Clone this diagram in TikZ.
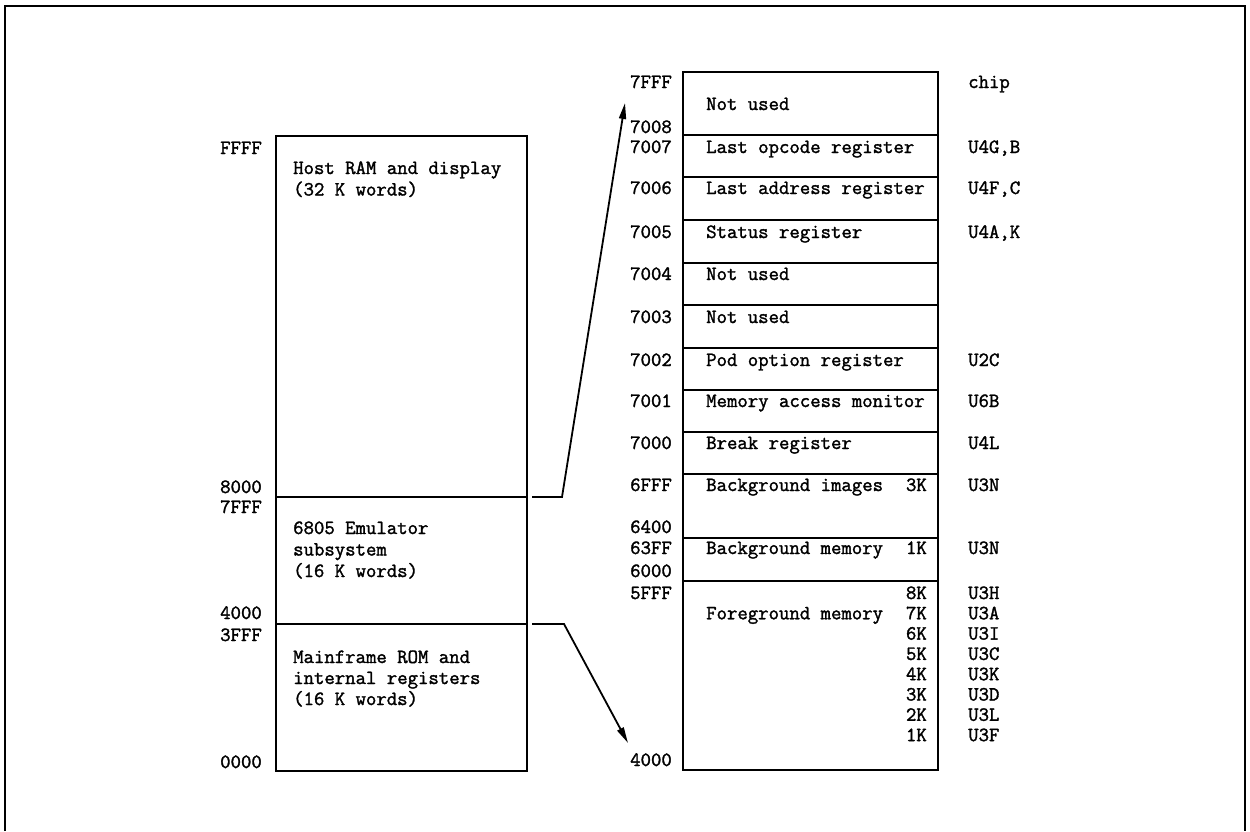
\documentclass[tikz,border=0pt]{standalone}
\usepackage{fontspec}
\newfontfamily\tyfont{Latin Modern Mono}[RawFeature={embolden=1.6}]
\usetikzlibrary{arrows.meta}
\begin{document}
\begin{tikzpicture}[x=1pt,y=-1pt,
  region/.style={draw,line width=1.6pt,anchor=north west,inner sep=0pt,outer sep=0pt},
  txt/.style={inner sep=0pt,anchor=base west,font=\fontsize{20.2}{21.5}\selectfont\tyfont},
  rtxt/.style={txt,anchor=base east},
  arr/.style={line width=1.8pt,-{Triangle[length=16pt,width=7pt]}},
  frame/.style={line width=2.6pt}]
\useasboundingbox (0,0) rectangle (1250,831);
% outer frame (open at bottom)
\draw[frame] (5,831) -- (5,6) -- (1245,6) -- (1245,831);

% ---------- left memory map ----------
\node[region,minimum width=251pt,minimum height=361pt] (host) at (276,136) {};
\node[region,minimum width=251pt,minimum height=127pt] (emu) at (276,497) {};
\node[region,minimum width=251pt,minimum height=147pt] (rom) at (276,624) {};

\node[rtxt] (aFFFF) at (262,154) {FFFF};
\node[rtxt] (a8000) at (262,493) {8000};
\node[rtxt] (a7FFFl) at (262,513) {7FFF};
\node[rtxt] (a4000l) at (262,619) {4000};
\node[rtxt] (a3FFF) at (262,641) {3FFF};
\node[rtxt] (a0000) at (262,768) {0000};

\node[txt] (h1) at (293,174) {Host RAM and display};
\node[txt] (h2) at (293,195.5) {(32 K words)};
\node[txt] (e1) at (293,534) {6805 Emulator};
\node[txt] (e2) at (293,555.5) {subsystem};
\node[txt] (e3) at (293,577) {(16 K words)};
\node[txt] (m1) at (293,663) {Mainframe ROM and};
\node[txt] (m2) at (293,684) {internal registers};
\node[txt] (m3) at (293,705) {(16 K words)};

% ---------- right memory map ----------
\node[region,minimum width=255pt,minimum height=63pt] (r0) at (683,72) {};
\node[region,minimum width=255pt,minimum height=42pt] (r1) at (683,135) {};
\node[region,minimum width=255pt,minimum height=43pt] (r2) at (683,177) {};
\node[region,minimum width=255pt,minimum height=43pt] (r3) at (683,220) {};
\node[region,minimum width=255pt,minimum height=42pt] (r4) at (683,263) {};
\node[region,minimum width=255pt,minimum height=43pt] (r5) at (683,305) {};
\node[region,minimum width=255pt,minimum height=42pt] (r6) at (683,348) {};
\node[region,minimum width=255pt,minimum height=42pt] (r7) at (683,390) {};
\node[region,minimum width=255pt,minimum height=42pt] (r8) at (683,432) {};
\node[region,minimum width=255pt,minimum height=64pt] (r9) at (683,474) {};
\node[region,minimum width=255pt,minimum height=43pt] (r10) at (683,538) {};
\node[region,minimum width=255pt,minimum height=189pt] (r11) at (683,581) {};

% addresses
\node[rtxt] (b7FFF) at (672,88) {7FFF};
\node[rtxt] (b7008) at (672,133) {7008};
\node[rtxt] (b7007) at (672,153) {7007};
\node[rtxt] (b7006) at (672,194) {7006};
\node[rtxt] (b7005) at (672,238) {7005};
\node[rtxt] (b7004) at (672,280) {7004};
\node[rtxt] (b7003) at (672,323) {7003};
\node[rtxt] (b7002) at (672,366) {7002};
\node[rtxt] (b7001) at (672,407) {7001};
\node[rtxt] (b7000) at (672,449) {7000};
\node[rtxt] (b6FFF) at (672,491) {6FFF};
\node[rtxt] (b6400) at (672,533) {6400};
\node[rtxt] (b63FF) at (672,554) {63FF};
\node[rtxt] (b6000) at (672,577) {6000};
\node[rtxt] (b5FFF) at (672,599) {5FFF};
\node[rtxt] (b4000) at (672,766) {4000};

% contents
\node[txt] (c0) at (706,110) {Not used};
\node[txt] (c1) at (706,153) {Last opcode register};
\node[txt] (c2) at (706,194) {Last address register};
\node[txt] (c3) at (706,238) {Status register};
\node[txt] (c4) at (706,280) {Not used};
\node[txt] (c5) at (706,323) {Not used};
\node[txt] (c6) at (706,366) {Pod option register};
\node[txt] (c7) at (706,407) {Memory access monitor};
\node[txt] (c8) at (706,449) {Break register};
\node[txt] (c9) at (706,491) {Background images};
\node[txt] (c10) at (706,554) {Background memory};
\node[txt] (c11) at (706,619.3) {Foreground memory};

% sizes
\node[rtxt] (k9) at (927,491) {3K};
\node[rtxt] (k10) at (927,554) {1K};
\node[rtxt] (k8K) at (927,599) {8K};
\node[rtxt] (k7K) at (927,619.3) {7K};
\node[rtxt] (k6K) at (927,639.6) {6K};
\node[rtxt] (k5K) at (927,659.9) {5K};
\node[rtxt] (k4K) at (927,680.2) {4K};
\node[rtxt] (k3K) at (927,700.5) {3K};
\node[rtxt] (k2K) at (927,720.8) {2K};
\node[rtxt] (k1K) at (927,741.1) {1K};

% chips
\node[txt] (chip) at (968,88) {chip};
\node[txt] (u1) at (968,153) {U4G,B};
\node[txt] (u2) at (968,194) {U4F,C};
\node[txt] (u3) at (968,238) {U4A,K};
\node[txt] (u6) at (968,366) {U2C};
\node[txt] (u7) at (968,407) {U6B};
\node[txt] (u8) at (968,449) {U4L};
\node[txt] (u9) at (968,491) {U3N};
\node[txt] (u10) at (968,554) {U3N};
\node[txt] (u8K) at (968,599) {U3H};
\node[txt] (u7K) at (968,619.3) {U3A};
\node[txt] (u6K) at (968,639.6) {U3I};
\node[txt] (u5K) at (968,659.9) {U3C};
\node[txt] (u4K) at (968,680.2) {U3K};
\node[txt] (u3K) at (968,700.5) {U3D};
\node[txt] (u2K) at (968,720.8) {U3L};
\node[txt] (u1K) at (968,741.1) {U3F};

% ---------- arrows ----------
\coordinate (t1) at (625,103);
\coordinate (t2) at (628,743);
\draw[arr] ([xshift=5pt]emu.north east) -- ++(30,0) -- (t1);
\draw[arr] ([xshift=5pt]rom.north east) -- ++(32,0) -- (t2);
\end{tikzpicture}
\end{document}
